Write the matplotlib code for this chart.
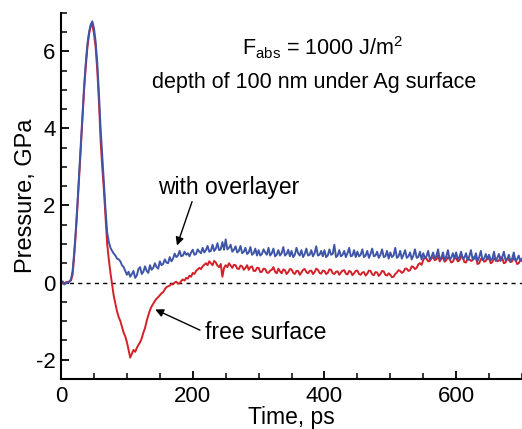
import matplotlib
matplotlib.use("Agg")
import matplotlib.pyplot as plt
from matplotlib.ticker import MultipleLocator

plt.rcParams["font.family"] = ["Liberation Sans", "DejaVu Sans"]
plt.rcParams["axes.unicode_minus"] = False

# time grid, ps (sampled every 2.5 ps)
time_ps = [i * 2.5 for i in range(281)]

# pressure at 100 nm depth, free surface (red), GPa
p_free = [
    0.02, -0.02, -0.03, 0.01, 0.01, 0.03, 0.05, 0.20, 0.70, 1.30, 2.00, 2.75, 3.50, 4.25, 5.00, 5.60, 6.10, 6.45, 6.65, 6.70,
    6.45, 6.10, 5.50, 4.70, 3.70, 3.00, 2.40, 1.70, 1.00, 0.60, 0.25, -0.05, -0.35, -0.55, -0.75, -0.90, -1.00, -1.15, -1.30, -1.40,
    -1.55, -1.75, -1.95, -1.85, -1.75, -1.80, -1.70, -1.62, -1.55, -1.45, -1.30, -1.18, -1.00, -0.85, -0.72, -0.62, -0.55, -0.48, -0.42, -0.38,
    -0.33, -0.28, -0.25, -0.18, -0.12, -0.10, -0.08, -0.04, -0.05, 0.00, 0.02, -0.03, -0.02, 0.04, 0.08, 0.05, 0.12, 0.10, 0.18, 0.15,
    0.25, 0.22, 0.30, 0.34, 0.38, 0.35, 0.42, 0.46, 0.50, 0.45, 0.55, 0.50, 0.45, 0.56, 0.52, 0.44, 0.40, 0.48, 0.15, 0.38,
    0.45, 0.40, 0.50, 0.44, 0.38, 0.46, 0.45, 0.36, 0.35, 0.44, 0.42, 0.33, 0.38, 0.45, 0.33, 0.40, 0.42, 0.30, 0.30, 0.38,
    0.38, 0.27, 0.28, 0.36, 0.35, 0.26, 0.25, 0.31, 0.33, 0.40, 0.28, 0.24, 0.36, 0.29, 0.24, 0.34, 0.32, 0.22, 0.27, 0.35,
    0.34, 0.25, 0.22, 0.30, 0.30, 0.20, 0.26, 0.33, 0.35, 0.27, 0.24, 0.30, 0.31, 0.22, 0.27, 0.36, 0.33, 0.25, 0.23, 0.31,
    0.30, 0.22, 0.25, 0.34, 0.33, 0.24, 0.22, 0.28, 0.29, 0.20, 0.26, 0.31, 0.32, 0.23, 0.21, 0.30, 0.28, 0.19, 0.24, 0.30,
    0.31, 0.22, 0.20, 0.26, 0.27, 0.18, 0.23, 0.31, 0.30, 0.21, 0.19, 0.27, 0.26, 0.17, 0.22, 0.30, 0.29, 0.20, 0.18, 0.24,
    0.20, 0.14, 0.15, 0.22, 0.26, 0.32, 0.30, 0.25, 0.28, 0.36, 0.36, 0.30, 0.32, 0.42, 0.40, 0.35, 0.38, 0.47, 0.50, 0.46,
    0.58, 0.66, 0.62, 0.55, 0.56, 0.63, 0.66, 0.58, 0.60, 0.70, 0.55, 0.62, 0.65, 0.54, 0.58, 0.66, 0.62, 0.52, 0.54, 0.64,
    0.63, 0.55, 0.57, 0.68, 0.66, 0.53, 0.52, 0.62, 0.60, 0.56, 0.58, 0.67, 0.64, 0.48, 0.50, 0.61, 0.61, 0.54, 0.56, 0.65,
    0.62, 0.50, 0.53, 0.63, 0.60, 0.55, 0.57, 0.66, 0.64, 0.50, 0.52, 0.62, 0.59, 0.53, 0.55, 0.64, 0.61, 0.48, 0.50, 0.58,
    0.56,
]

# pressure at 100 nm depth, with overlayer (blue), GPa
p_overlayer = [
    0.00, 0.03, -0.05, -0.02, 0.00, 0.02, 0.08, 0.30, 0.80, 1.40, 2.10, 2.85, 3.60, 4.35, 5.10, 5.70, 6.20, 6.50, 6.70, 6.78,
    6.60, 6.25, 5.70, 4.90, 4.00, 3.30, 2.60, 1.90, 1.30, 1.05, 0.90, 0.82, 0.75, 0.70, 0.62, 0.60, 0.55, 0.45, 0.40, 0.30,
    0.20, 0.28, 0.15, 0.22, 0.30, 0.12, 0.18, 0.35, 0.40, 0.22, 0.28, 0.42, 0.30, 0.25, 0.45, 0.33, 0.38, 0.50, 0.40, 0.36,
    0.55, 0.45, 0.48, 0.60, 0.52, 0.50, 0.66, 0.55, 0.62, 0.75, 0.66, 0.70, 0.82, 0.68, 0.70, 0.80, 0.72, 0.76, 0.68, 0.78,
    0.85, 0.72, 0.74, 0.86, 0.80, 0.76, 0.90, 0.78, 0.84, 0.95, 0.80, 0.82, 0.98, 0.82, 0.88, 1.02, 0.84, 0.86, 1.05, 0.85,
    1.12, 0.86, 0.90, 0.98, 0.80, 0.85, 0.94, 0.78, 0.82, 0.95, 0.76, 0.80, 0.90, 0.74, 0.78, 0.92, 0.72, 0.76, 0.88, 0.70,
    0.84, 0.70, 0.74, 0.86, 0.78, 0.72, 0.90, 0.70, 0.76, 0.88, 0.68, 0.72, 0.84, 0.70, 0.76, 0.92, 0.70, 0.74, 0.85, 0.68,
    0.82, 0.66, 0.72, 0.90, 0.76, 0.70, 0.84, 0.66, 0.74, 0.88, 0.70, 0.72, 0.84, 0.68, 0.76, 0.94, 0.70, 0.72, 0.82, 0.68,
    0.84, 0.66, 0.70, 0.86, 0.72, 0.74, 0.98, 0.66, 0.70, 0.84, 0.68, 0.72, 0.82, 0.66, 0.76, 0.90, 0.68, 0.70, 0.84, 0.66,
    0.80, 0.68, 0.72, 0.86, 0.66, 0.70, 0.82, 0.64, 0.74, 0.88, 0.68, 0.70, 0.80, 0.64, 0.72, 0.86, 0.66, 0.68, 0.82, 0.62,
    0.78, 0.66, 0.70, 0.90, 0.64, 0.68, 0.82, 0.62, 0.72, 0.84, 0.64, 0.68, 0.78, 0.60, 0.70, 0.86, 0.64, 0.66, 0.80, 0.60,
    0.76, 0.64, 0.68, 0.82, 0.60, 0.66, 0.78, 0.62, 0.70, 0.86, 0.60, 0.64, 0.78, 0.58, 0.68, 0.84, 0.60, 0.64, 0.76, 0.62,
    0.78, 0.60, 0.66, 0.80, 0.62, 0.64, 0.76, 0.58, 0.68, 0.84, 0.60, 0.62, 0.76, 0.56, 0.66, 0.82, 0.58, 0.62, 0.74, 0.60,
    0.72, 0.58, 0.62, 0.80, 0.56, 0.64, 0.74, 0.56, 0.66, 0.80, 0.58, 0.60, 0.72, 0.54, 0.62, 0.78, 0.56, 0.60, 0.70, 0.56,
    0.62,
]

fig = plt.figure(figsize=(5.22, 4.29), dpi=100)
ax = fig.add_axes([0.117, 0.117, 0.883, 0.853])

ax.axhline(0, color="black", lw=1.0, ls=(0, (3, 3)))
ax.plot(time_ps, p_free, color="#d42028", lw=1.4)
ax.plot(time_ps, p_overlayer, color="#3f55a8", lw=1.4)

ax.set_xlim(0, 700)
ax.set_ylim(-2.5, 7.0)
ax.xaxis.set_major_locator(MultipleLocator(200))
ax.xaxis.set_minor_locator(MultipleLocator(50))
ax.yaxis.set_major_locator(MultipleLocator(2))
ax.yaxis.set_minor_locator(MultipleLocator(0.5))

for side in ["top", "right"]:
    ax.spines[side].set_visible(False)
for side in ["left", "bottom"]:
    ax.spines[side].set_linewidth(1.5)

ax.tick_params(which="major", direction="in", length=6, width=1.3, labelsize=16)
ax.tick_params(axis="y", which="major", pad=4)
ax.tick_params(axis="x", which="major", pad=5)
ax.tick_params(which="minor", direction="in", length=4, width=1.1)

ax.set_xlabel("Time, ps", fontsize=16.5)
ax.xaxis.set_label_coords(0.5, -0.075)
ax.set_ylabel("Pressure, GPa", fontsize=17, labelpad=-1)

ax.text(397, 6.1, r"F$_{\mathregular{abs}}$ = 1000 J/m$^{\mathregular{2}}$",
        fontsize=15.5, ha="center", va="center")
ax.text(385, 5.2, "depth of 100 nm under Ag surface", fontsize=15.5, ha="center", va="center")

ax.annotate("with overlayer", xy=(176, 0.96), xytext=(254, 2.47),
            fontsize=16.5, ha="center", va="center",
            arrowprops=dict(arrowstyle="-|>", color="black", lw=1.0,
                            mutation_scale=12, shrinkA=0, shrinkB=0,
                            relpos=(0.25, 0.0)))
ax.annotate("free surface", xy=(143, -0.70), xytext=(219, -1.3),
            fontsize=16.5, ha="left", va="center",
            arrowprops=dict(arrowstyle="-|>", color="black", lw=1.0,
                            mutation_scale=12, shrinkA=2, shrinkB=0,
                            relpos=(0.0, 0.5)))

fig.savefig("out.png", dpi=100)
